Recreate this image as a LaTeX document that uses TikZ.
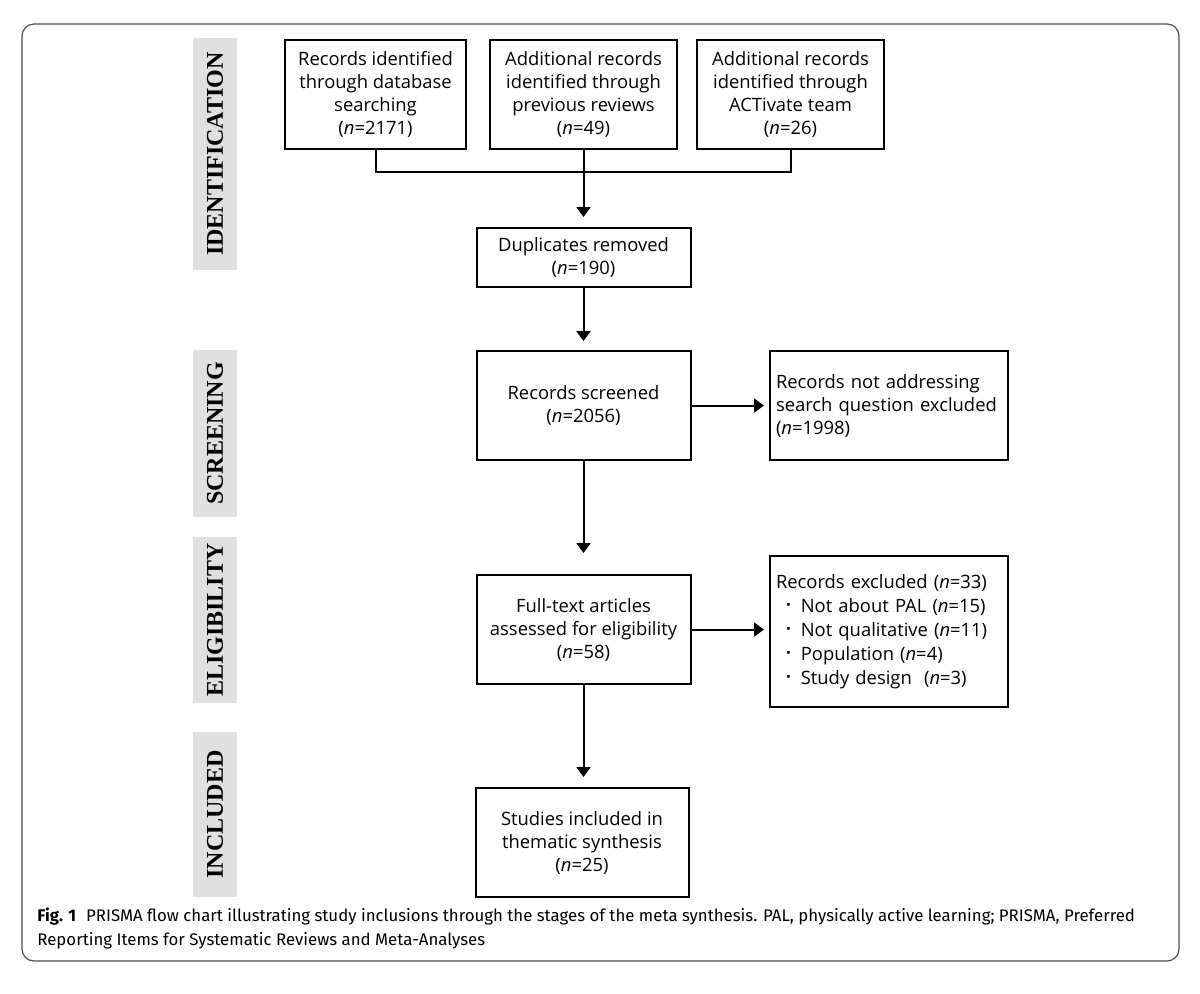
\documentclass[tikz,border=0pt]{standalone}
\usepackage{fontspec}
\setmainfont{Open Sans}
\newfontfamily\sidefont{Liberation Serif}
\newfontfamily\capfont{Fira Sans}
\usetikzlibrary{arrows.meta}
\newcommand{\blt}{\hspace*{5pt}\raisebox{1.3pt}{\scalebox{0.7}{\textbullet}}\hspace{5pt}}
\begin{document}
\begin{tikzpicture}[x=0.5pt,y=-0.5pt,
  flowbox/.style={draw=black,line width=1pt,inner sep=0pt,align=center,font=\fontsize{9.2}{11.5}\selectfont},
  sidebox/.style={fill=sidegray,inner sep=0pt,rotate=90,font=\sidefont\bfseries\fontsize{12}{12}\selectfont},
  flowarrow/.style={line width=1pt,-{Triangle[length=5pt,width=7pt]}},
  flowline/.style={line width=1pt}]
\definecolor{sidegray}{RGB}{224,224,224}
\useasboundingbox (0,0) rectangle (1200,993);
\draw[line width=0.6pt,draw=black!70,rounded corners=6pt] (22,24) rectangle (1179,961);
% side labels
\node[sidebox,minimum width=116pt,minimum height=22pt] (sid) at (215,154) {IDENTIFICATION};
\node[sidebox,minimum width=83.5pt,minimum height=22pt] (sscr) at (215,433.5) {SCREENING};
\node[sidebox,minimum width=83pt,minimum height=22pt] (selig) at (215,620) {ELIGIBILITY};
\node[sidebox,minimum width=82.5pt,minimum height=22pt] (sinc) at (215,814.5) {INCLUDED};
% boxes
\node[flowbox,minimum width=90.5pt,minimum height=54.5pt] (b1) at (375.5,94.5) {Records identified\\through database\\searching\\(\textit{n}=2171)};
\node[flowbox,minimum width=93.5pt,minimum height=54.5pt] (b2) at (583.5,94.5) {Additional records\\identified through\\previous reviews\\(\textit{n}=49)};
\node[flowbox,minimum width=93.5pt,minimum height=54.5pt] (b3) at (790.5,94.5) {Additional records\\identified through\\ACTivate team\\(\textit{n}=26)};
\node[flowbox,minimum width=107pt,minimum height=29.5pt] (dup) at (583.5,257.5) {Duplicates removed\\(\textit{n}=190)};
\node[flowbox,minimum width=107pt,minimum height=54.5pt] (scr) at (583.5,405.5) {Records screened\\(\textit{n}=2056)};
\node[flowbox,minimum width=119pt,minimum height=54.5pt,text width=113pt,align=left] (nadd) at (889,405.5) {Records not addressing\\search question excluded\\(\textit{n}=1998)};
\node[flowbox,minimum width=107pt,minimum height=54.5pt] (full) at (583.5,629.5) {Full-text articles\\assessed for eligibility\\(\textit{n}=58)};
\node[flowbox,minimum width=119pt,minimum height=75.5pt,text width=113pt,align=left,font=\fontsize{9.2}{12}\selectfont] (excl) at (889,631.5) {Records excluded (\textit{n}=33)\\
\blt Not about PAL (\textit{n}=15)\\
\blt Not qualitative (\textit{n}=11)\\
\blt Population (\textit{n}=4)\\
\blt Study design\ \ (\textit{n}=3)};
\node[flowbox,minimum width=106.5pt,minimum height=54.5pt] (inc) at (582,842.5) {Studies included in\\thematic synthesis\\(\textit{n}=25)};
% connectors
\coordinate (m) at (583.5,172);
\draw[flowline] (b1.south) |- (m) -| (b3.south);
\draw[flowarrow,shorten >=5pt] (b2.south) -- (dup.north);
\draw[flowarrow,shorten >=4.5pt] (dup.south) -- (scr.north);
\draw[flowarrow,shorten >=2.5pt] (scr.east) -- (nadd.west);
\draw[flowarrow,shorten >=10.5pt] (scr.south) -- (full.north);
\draw[flowarrow,shorten >=2.5pt] (full.east) -- (full.east -| excl.west);
\draw[flowarrow,shorten >=5pt] (full.south) -- (inc.north -| full.south);
% caption
\node[anchor=west,inner sep=0pt,font=\capfont\fontsize{8.4}{11}\selectfont] (cap1) at (37,917) {\textbf{Fig. 1}\hspace{5pt}PRISMA flow chart illustrating study inclusions through the stages of the meta synthesis. PAL, physically active learning; PRISMA, Preferred};
\node[anchor=west,inner sep=0pt,font=\capfont\fontsize{8.4}{11}\selectfont] (cap2) at (37,941) {Reporting Items for Systematic Reviews and Meta-Analyses};
\end{tikzpicture}
\end{document}
